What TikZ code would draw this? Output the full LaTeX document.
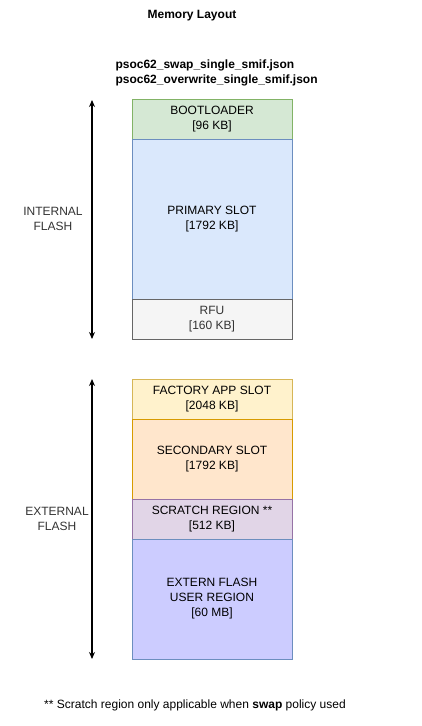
\documentclass[tikz,border=0pt]{standalone}
\usepackage{fontspec}
\setmainfont{Liberation Sans}
\usepackage{xcolor}
\usepackage{tikz}
\usetikzlibrary{arrows.meta}

\definecolor{bootfill}{HTML}{D5E8D4}
\definecolor{bootline}{HTML}{82B366}
\definecolor{primfill}{HTML}{DAE8FC}
\definecolor{primline}{HTML}{6C8EBF}
\definecolor{rfufill}{HTML}{F5F5F5}
\definecolor{rfuline}{HTML}{666666}
\definecolor{rfutext}{HTML}{333333}
\definecolor{factfill}{HTML}{FFF2CC}
\definecolor{factline}{HTML}{D6B656}
\definecolor{secfill}{HTML}{FFE6CC}
\definecolor{secline}{HTML}{D79B00}
\definecolor{scrfill}{HTML}{E1D5E7}
\definecolor{scrline}{HTML}{9673A6}
\definecolor{extfill}{HTML}{CCCCFF}

\tikzset{
  region/.style={draw, line width=1pt, minimum width=160pt, inner sep=0pt,
    outer sep=0pt, align=center, font=\fontsize{12}{15}\selectfont},
  flashlabel/.style={align=center, text=rfutext, font=\fontsize{12}{15}\selectfont},
  span/.style={line width=1.2pt, {Stealth[length=7pt,width=6pt]}-{Stealth[length=7pt,width=6pt]}}
}

\begin{document}
\begin{tikzpicture}[x=1pt, y=-1pt]
        \useasboundingbox (0,0) rectangle (422,726);

        \node[font=\fontsize{12}{15}\selectfont\bfseries] (title) at (192,16) {Memory Layout};
        \node[anchor=west, align=left, font=\fontsize{12}{15}\selectfont\bfseries] (json) at (112,73)
            {psoc62\_swap\_single\_smif.json\\psoc62\_overwrite\_single\_smif.json};

        % internal flash
        \node[region, fill=bootfill, draw=bootline, minimum height=40pt] (boot) at (212,119) {BOOTLOADER\\{}[96 KB]};
        \node[region, fill=primfill, draw=primline, minimum height=160pt] (primary) at (212,219) {PRIMARY SLOT\\{}[1792 KB]};
        \node[region, fill=rfufill, draw=rfuline, text=rfutext, minimum height=40pt] (rfu) at (212,319) {RFU\\{}[160 KB]};

        % external flash
        \node[region, fill=factfill, draw=factline, minimum height=40pt] (factory) at (212,399) {FACTORY APP SLOT\\{}[2048 KB]};
        \node[region, fill=secfill, draw=secline, minimum height=80pt] (secondary) at (212,459) {SECONDARY SLOT\\{}[1792 KB]};
        \node[region, fill=scrfill, draw=scrline, minimum height=40pt] (scratch) at (212,519) {SCRATCH REGION **\\{}[512 KB]};
        \node[region, fill=extfill, draw=primline, minimum height=120pt] (extern) at (212,599) {EXTERN FLASH\\USER REGION\\{}[60 MB]};

        \coordinate (inttop) at (92,100);
        \coordinate (intbot) at (92,339);
        \draw[span] (inttop) -- (intbot);
        \node[flashlabel] (intlabel) at (53,219) {INTERNAL\\FLASH};

        \coordinate (exttop) at (92,379);
        \coordinate (extbot) at (92,659);
        \draw[span] (exttop) -- (extbot);
        \node[flashlabel] (extlabel) at (57,519) {EXTERNAL\\FLASH};

        \node[font=\fontsize{12}{15}\selectfont] (note) at (195,705)
            {** Scratch region only applicable when \textbf{swap} policy used};
    \end{tikzpicture}
\end{document}
